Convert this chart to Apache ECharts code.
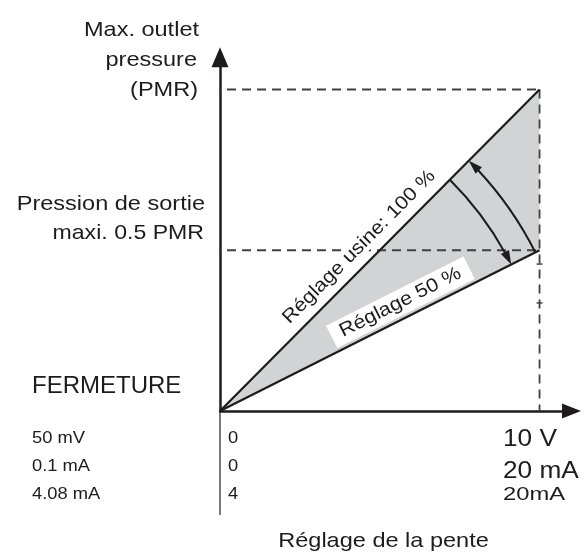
<!DOCTYPE html>
<html>
<head>
<meta charset="utf-8">
<script src="https://cdn.jsdelivr.net/npm/echarts@6/dist/echarts.min.js"></script>
<style>
  html, body { margin: 0; padding: 0; background: #fff; }
  #chart { width: 584px; height: 555px; }
</style>
</head>
<body>
<div id="chart"></div>
<script>
// x: signal de consigne (V), y: pression de sortie (fraction de PMR)
const usineLine = [[0, 0], [10, 1]];    // Réglage usine: 100 %
const halfLine = [[0, 0], [10, 0.5]];   // Réglage 50 %
const pmrLevels = [1, 0.5];             // PMR, 0.5 PMR
const endTicks = [0.457, 0.336];        // petites marques sur la verticale 10 V
const leftRule = [[-4.82, 0], [0, 0]];
const downRule = [[0, 0], [0, -0.3235]];

const topLabel = ['Max. outlet', 'pressure', '(PMR)'];
const midLabel = ['Pression de sortie', 'maxi. 0.5 PMR'];
const rowNames = ['50 mV', '0.1 mA', '4.08 mA'];
const rowStart = ['0', '0', '4'];
const rowEnd = ['10 V', '20 mA', '20mA'];

const ink = '#1e1b1c';
const dashInk = '#404040';
const fillGray = '#d1d3d4';
const FONT = '"Liberation Sans", Arial, Helvetica, sans-serif';

const chart = echarts.init(document.getElementById('chart'), null, { renderer: 'canvas' });

function txt(text, x, y, size, sx, align) {
  return {
    type: 'text',
    x: x,
    y: y,
    scaleX: sx,
    silent: true,
    style: {
      text: text,
      font: size + 'px ' + FONT,
      fill: ink,
      align: align,
      textAlign: align,
      verticalAlign: 'middle',
      textVerticalAlign: 'middle'
    }
  };
}

function unit(o, p) {
  const len = Math.hypot(p[0] - o[0], p[1] - o[1]);
  return [(p[0] - o[0]) / len, (p[1] - o[1]) / len, len];
}

// rotated label sitting above a slope line
function slopeLabel(o, p, t, off, text, box) {
  const u = unit(o, p);
  const px = o[0] + (p[0] - o[0]) * t;
  const py = o[1] + (p[1] - o[1]) * t;
  return {
    type: 'text',
    x: px + u[1] * off,
    y: py - u[0] * off,
    rotation: -Math.atan2(u[1], u[0]),
    scaleX: 1.12,
    style: {
      text: text,
      font: '19px ' + FONT,
      fill: ink,
      align: 'center',
      verticalAlign: 'middle',
      backgroundColor: '#fff',
      padding: box ? [3, 9] : [0, 1]
    }
  };
}

function arrowHead(tip, dir, len, half) {
  const bx = tip[0] - dir[0] * len;
  const by = tip[1] - dir[1] * len;
  return {
    type: 'polygon',
    shape: { points: [tip, [bx - dir[1] * half, by + dir[0] * half], [bx + dir[1] * half, by - dir[0] * half]] },
    style: { fill: ink }
  };
}

const lineBase = {
  type: 'line',
  symbol: 'none',
  silent: true,
  animation: false
};

chart.setOption({
  animation: false,
  grid: { left: 220, right: 12.5, top: 57.35, bottom: 144 },
  xAxis: {
    type: 'value',
    min: 0,
    max: 11,
    axisLine: {
      show: true,
      symbol: ['none', 'triangle'],
      symbolSize: [15, 19],
      lineStyle: { color: ink, width: 2.5 }
    },
    axisTick: { show: false },
    axisLabel: { show: false },
    splitLine: { show: false }
  },
  yAxis: {
    type: 'value',
    min: 0,
    max: 1.1,
    axisLine: {
      show: true,
      symbol: ['none', 'triangle'],
      symbolSize: [17, 20],
      lineStyle: { color: ink, width: 2.5 }
    },
    axisTick: { show: false },
    axisLabel: { show: false },
    splitLine: { show: false }
  },
  graphic: [
    txt(topLabel[0], 199, 30, 21, 1.12, 'right'),
    txt(topLabel[1], 197, 60, 21, 1.12, 'right'),
    txt(topLabel[2], 198, 90, 21, 1.12, 'right'),
    txt(midLabel[0], 205, 204, 21, 1.12, 'right'),
    txt(midLabel[1], 204, 233, 21, 1.1, 'right'),
    txt('FERMETURE', 32, 386, 24, 1.0, 'left'),
    txt(rowNames[0], 32, 438, 16.5, 1.11, 'left'),
    txt(rowNames[1], 32, 466, 16.5, 1.11, 'left'),
    txt(rowNames[2], 32, 494.5, 16.5, 1.11, 'left'),
    txt(rowStart[0], 228, 438, 16.5, 1.11, 'left'),
    txt(rowStart[1], 228, 466, 16.5, 1.11, 'left'),
    txt(rowStart[2], 228, 494.5, 16.5, 1.11, 'left'),
    txt(rowEnd[0], 503, 439, 24.5, 1.07, 'left'),
    txt(rowEnd[1], 503, 471.5, 24.5, 1.07, 'left'),
    txt(rowEnd[2], 503, 495, 18, 1.32, 'left'),
    txt('Réglage de la pente', 383.5, 541, 21, 1.12, 'center')
  ],
  series: [
    {
      // zone grise entre les deux pentes
      type: 'custom',
      silent: true,
      z: 1,
      data: [0],
      renderItem: function (params, api) {
        return {
          type: 'polygon',
          shape: { points: [api.coord(usineLine[0]), api.coord(usineLine[1]), api.coord(halfLine[1])] },
          style: { fill: fillGray }
        };
      }
    },
    Object.assign({}, lineBase, {
      z: 2, clip: false,
      data: [[-0.25, pmrLevels[0]], [10, pmrLevels[0]]],
      lineStyle: { color: dashInk, width: 1.8, type: [9, 6] }
    }),
    Object.assign({}, lineBase, {
      z: 2, clip: false,
      data: [[-0.25, pmrLevels[1]], [10, pmrLevels[1]]],
      lineStyle: { color: dashInk, width: 1.8, type: [9, 6] }
    }),
    Object.assign({}, lineBase, {
      z: 2,
      data: [[10, pmrLevels[0]], [10, 0]],
      lineStyle: { color: dashInk, width: 1.8, type: [9, 6] }
    }),
    {
      type: 'scatter',
      z: 2,
      silent: true,
      symbol: 'rect',
      symbolSize: [6, 1.8],
      itemStyle: { color: dashInk },
      data: endTicks.map(function (v) { return [10, v]; })
    },
    Object.assign({}, lineBase, {
      z: 3, clip: false,
      data: leftRule,
      lineStyle: { color: '#333', width: 1.3 }
    }),
    Object.assign({}, lineBase, {
      z: 3, clip: false,
      data: downRule,
      lineStyle: { color: '#333', width: 1.3 }
    }),
    Object.assign({}, lineBase, {
      z: 4,
      data: usineLine,
      lineStyle: { color: ink, width: 2.2 }
    }),
    Object.assign({}, lineBase, {
      z: 4,
      data: halfLine,
      lineStyle: { color: ink, width: 2.2 }
    }),
    {
      // flèches d'ajustement de la pente
      type: 'custom',
      silent: true,
      z: 5,
      data: [0],
      renderItem: function (params, api) {
        const o = api.coord([0, 0]);
        const a = api.coord(usineLine[1]);
        const b = api.coord(halfLine[1]);
        const angUp = Math.atan2(a[1] - o[1], a[0] - o[0]);
        const angLo = Math.atan2(b[1] - o[1], b[0] - o[0]);
        const rIn = 326, rOut = 353, L = 14, W = 4.5;
        const tipIn = [o[0] + rIn * Math.cos(angLo), o[1] + rIn * Math.sin(angLo)];
        const tipOut = [o[0] + rOut * Math.cos(angUp), o[1] + rOut * Math.sin(angUp)];
        return {
          type: 'group',
          children: [
            {
              type: 'arc',
              shape: { cx: o[0], cy: o[1], r: rIn, startAngle: angUp, endAngle: angLo - (L - 2) / rIn, clockwise: true },
              style: { stroke: ink, lineWidth: 2, fill: null }
            },
            arrowHead(tipIn, [-Math.sin(angLo), Math.cos(angLo)], L, W),
            {
              type: 'arc',
              shape: { cx: o[0], cy: o[1], r: rOut, startAngle: angUp + (L - 2) / rOut, endAngle: angLo, clockwise: true },
              style: { stroke: ink, lineWidth: 2, fill: null }
            },
            arrowHead(tipOut, [Math.sin(angUp), -Math.cos(angUp)], L, W)
          ]
        };
      }
    },
    {
      type: 'custom',
      silent: true,
      z: 6,
      data: [0],
      renderItem: function (params, api) {
        const o = api.coord([0, 0]);
        return {
          type: 'group',
          children: [
            slopeLabel(o, api.coord(usineLine[1]), 0.473, 17, 'Réglage usine: 100 %', false),
            slopeLabel(o, api.coord(halfLine[1]), 0.587, 16, 'Réglage 50 %', true)
          ]
        };
      }
    }
  ]
});
</script>
</body>
</html>
